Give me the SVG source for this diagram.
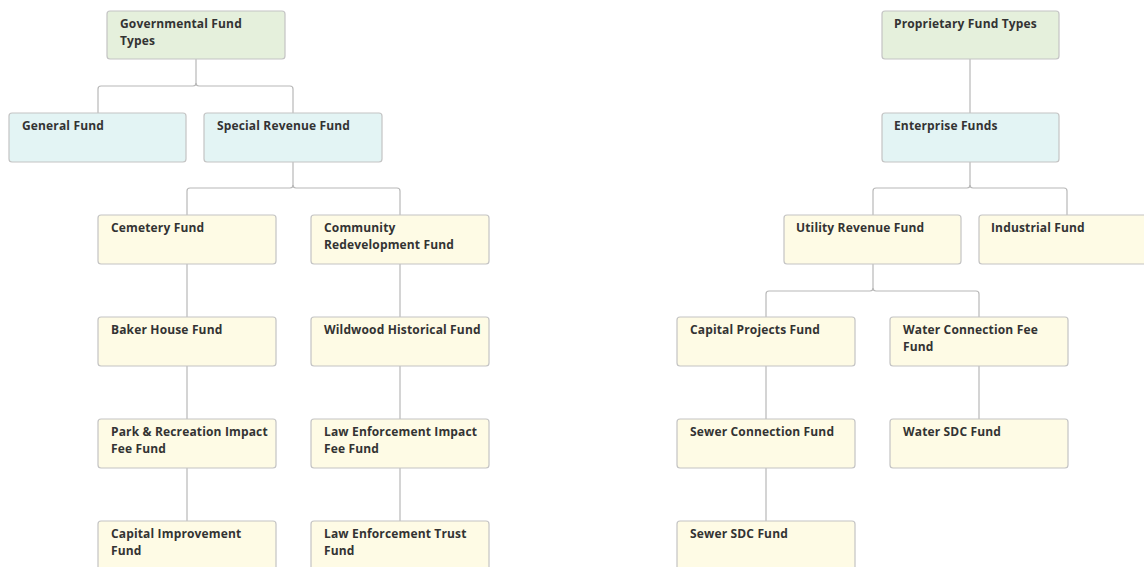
<svg xmlns="http://www.w3.org/2000/svg" width="1144" height="567" viewBox="0 0 1144 567">
<style>
.n rect{stroke:#c4c4c4;stroke-width:1.2}
.g rect{fill:#e5f0dc}
.b rect{fill:#e3f4f4}
.y rect{fill:#fefbe5}
text{font-family:"Open Sans","Liberation Sans",sans-serif;font-weight:700;font-size:12px;letter-spacing:0.15px;fill:#333333}
#connectors path{fill:none;stroke:#b8b8b8;stroke-width:1.2}
</style>
<rect width="1144" height="567" fill="#ffffff"/>
<g id="connectors">
<path d="M196,59 V83 Q196,86 193,86 H101 Q98,86 98,89 V113"/>
<path d="M196,83 Q196,86 199,86 H290 Q293,86 293,89 V113"/>
<path d="M293,162 V185 Q293,188 290,188 H190 Q187,188 187,191 V215"/>
<path d="M293,185 Q293,188 296,188 H397 Q400,188 400,191 V215"/>
<path d="M187,264 V317 M187,366 V419 M187,468 V521"/>
<path d="M400,264 V317 M400,366 V419 M400,468 V521"/>
<path d="M970,59 V113"/>
<path d="M970,162 V185 Q970,188 967,188 H876 Q873,188 873,191 V215"/>
<path d="M970,185 Q970,188 973,188 H1064 Q1067,188 1067,191 V215"/>
<path d="M873,264 V288 Q873,291 870,291 H769 Q766,291 766,294 V317"/>
<path d="M873,288 Q873,291 876,291 H976 Q979,291 979,294 V317"/>
<path d="M766,366 V419 M766,468 V521"/>
<path d="M979,366 V419"/>
</g>
<g id="gov" class="n g"><rect x="107" y="11" width="178" height="48" rx="3"/><text x="120" y="28">Governmental Fund</text><text x="120" y="45">Types</text></g>
<g id="general" class="n b"><rect x="9" y="113" width="177" height="49" rx="3"/><text x="22" y="130">General Fund</text></g>
<g id="special" class="n b"><rect x="204" y="113" width="178" height="49" rx="3"/><text x="217" y="130">Special Revenue Fund</text></g>
<g id="cemetery" class="n y"><rect x="98" y="215" width="178" height="49" rx="3"/><text x="111" y="232">Cemetery Fund</text></g>
<g id="community" class="n y"><rect x="311" y="215" width="178" height="49" rx="3"/><text x="324" y="232">Community</text><text x="324" y="249">Redevelopment Fund</text></g>
<g id="baker" class="n y"><rect x="98" y="317" width="178" height="49" rx="3"/><text x="111" y="334">Baker House Fund</text></g>
<g id="wildwood" class="n y"><rect x="311" y="317" width="178" height="49" rx="3"/><text x="324" y="334">Wildwood Historical Fund</text></g>
<g id="park" class="n y"><rect x="98" y="419" width="178" height="49" rx="3"/><text x="111" y="436">Park &amp; Recreation Impact</text><text x="111" y="453">Fee Fund</text></g>
<g id="lawimpact" class="n y"><rect x="311" y="419" width="178" height="49" rx="3"/><text x="324" y="436">Law Enforcement Impact</text><text x="324" y="453">Fee Fund</text></g>
<g id="capimp" class="n y"><rect x="98" y="521" width="178" height="49" rx="3"/><text x="111" y="538">Capital Improvement</text><text x="111" y="555">Fund</text></g>
<g id="lawtrust" class="n y"><rect x="311" y="521" width="178" height="49" rx="3"/><text x="324" y="538">Law Enforcement Trust</text><text x="324" y="555">Fund</text></g>
<g id="proprietary" class="n g"><rect x="882" y="11" width="177" height="48" rx="3"/><text x="894" y="28">Proprietary Fund Types</text></g>
<g id="enterprise" class="n b"><rect x="882" y="113" width="177" height="49" rx="3"/><text x="894" y="130">Enterprise Funds</text></g>
<g id="utility" class="n y"><rect x="784" y="215" width="177" height="49" rx="3"/><text x="796" y="232">Utility Revenue Fund</text></g>
<g id="industrial" class="n y"><rect x="979" y="215" width="178" height="49" rx="3"/><text x="991" y="232">Industrial Fund</text></g>
<g id="capproj" class="n y"><rect x="677" y="317" width="178" height="49" rx="3"/><text x="690" y="334">Capital Projects Fund</text></g>
<g id="waterconn" class="n y"><rect x="890" y="317" width="178" height="49" rx="3"/><text x="903" y="334">Water Connection Fee</text><text x="903" y="351">Fund</text></g>
<g id="sewerconn" class="n y"><rect x="677" y="419" width="178" height="49" rx="3"/><text x="690" y="436">Sewer Connection Fund</text></g>
<g id="watersdc" class="n y"><rect x="890" y="419" width="178" height="49" rx="3"/><text x="903" y="436">Water SDC Fund</text></g>
<g id="sewersdc" class="n y"><rect x="677" y="521" width="178" height="49" rx="3"/><text x="690" y="538">Sewer SDC Fund</text></g>
</svg>
